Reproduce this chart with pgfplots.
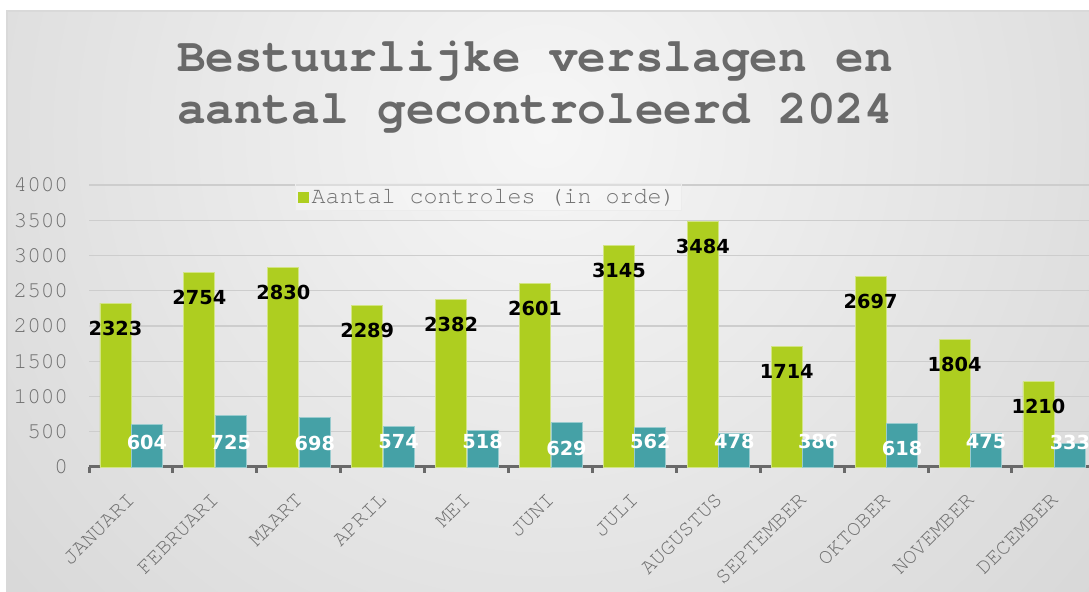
\documentclass[border=0pt]{standalone}
\usepackage{pgfplots}
\pgfplotsset{compat=1.18}
\usepackage{fontspec}
\setmainfont{TeX Gyre Cursor}
\newfontfamily\deja{DejaVu Sans}
\definecolor{grn}{RGB}{174,206,32}
\definecolor{tea}{RGB}{69,161,166}
\definecolor{txtg}{RGB}{112,112,112}
\definecolor{ttl}{RGB}{105,105,105}
\definecolor{axg}{RGB}{105,105,105}
\definecolor{gridc}{RGB}{205,205,205}
\definecolor{bgin}{RGB}{246,246,246}
\definecolor{bgout}{RGB}{196,196,196}
\pgfplotsset{/pgf/number format/.cd, 1000 sep={}, assume math mode=true}
\begin{document}
\begin{tikzpicture}
\useasboundingbox (0,0) rectangle (816.75pt,444pt);
\fill[white] (0,0) rectangle (816.75pt,444pt);
\begin{scope}
\clip (5.25pt,0pt) rectangle (816.75pt,435.75pt);
\fill[bgout] (5.25pt,0pt) rectangle (816.75pt,435.75pt);
\shade[inner color=bgin, outer color=bgout] (408.75pt,345pt) circle (900pt);
\end{scope}
\draw[gray!30, line width=0.9pt] (5.25pt,0pt) -- (5.25pt,435.75pt) -- (816.75pt,435.75pt);
\node[font=\bfseries\fontsize{35.8pt}{39pt}\selectfont, text=ttl, align=center] at (401.25pt,378.75pt) {Bestuurlijke verslagen en\\aantal gecontroleerd 2024};
\begin{axis}[
  at={(66.75pt,93.75pt)}, anchor=south west,
  scale only axis, width=750pt, height=211.5pt,
  xmin=-0.5, xmax=11.418, ymin=0, ymax=4000,
  axis x line*=bottom, axis y line*=left,
  x axis line style={draw=axg, line width=2.25pt, -},
  y axis line style={draw=none},
  ytick={0,500,...,4000},
  ymajorgrids, grid style={draw=gridc, line width=1.1pt},
  major tick length=0pt,
  xtick={0,...,11},
  xticklabels={JANUARI,FEBRUARI,MAART,APRIL,MEI,JUNI,JULI,AUGUSTUS,SEPTEMBER,OKTOBER,NOVEMBER,DECEMBER},
  extra x ticks={-0.5,0.5,1.5,2.5,3.5,4.5,5.5,6.5,7.5,8.5,9.5,10.5},
  extra x tick labels={},
  extra x tick style={major tick length=4.5pt, tick align=outside, major tick style={draw=axg, line width=2.25pt}, grid=none},
  yticklabel style={font=\fontsize{17pt}{20pt}\selectfont, text=txtg, anchor=east, inner sep=0pt, xshift=-15.5pt},
  xticklabel style={xshift=-3pt, yshift=-18.5pt, font=\fontsize{16.5pt}{19pt}\selectfont, text=txtg, rotate=45, anchor=north east, inner sep=0pt},
  legend style={at={(0.206,0.957)}, anchor=west, draw=gray!15, fill=white, fill opacity=0.3, text opacity=1, draw opacity=1, font=\fontsize{17.5pt}{20pt}\selectfont, text=txtg, inner sep=2pt},
  legend image code/.code={\draw[#1, draw=none, fill opacity=1] (0pt,-4.1pt) rectangle (8.25pt,4.1pt);},
  clip=false,
]
\addplot[ybar, bar width=23.25pt, bar shift=-11.6pt, fill=grn, draw=grn!55!white, line width=0.6pt,
  nodes near coords,
  every node near coord/.append style={font=\deja\bfseries\fontsize{14.5pt}{16pt}\selectfont, text=black, anchor=center, xshift=-11.6pt, yshift=-18.75pt}]
  coordinates {(0,2323) (1,2754) (2,2830) (3,2289) (4,2382) (5,2601) (6,3145) (7,3484) (8,1714) (9,2697) (10,1804) (11,1210)};
\addlegendentry{Aantal controles (in orde)}
\addplot[ybar, bar width=23.25pt, bar shift=12pt, fill=tea, draw=tea!55!white, line width=0.6pt, forget plot]
  coordinates {(0,604) (1,725) (2,698) (3,574) (4,518) (5,629) (6,562) (7,478) (8,386) (9,618) (10,475) (11,333)};
\addplot[draw=none, mark=none, forget plot, point meta=explicit symbolic,
  nodes near coords,
  every node near coord/.append style={font=\deja\bfseries\fontsize{14.5pt}{16pt}\selectfont, text=white, anchor=center, xshift=12pt}]
  coordinates {(0,355)[604] (1,355)[725] (2,340)[698] (3,360)[574] (4,360)[518] (5,270)[629] (6,360)[562] (7,360)[478] (8,360)[386] (9,270)[618] (10,355)[475] (11,355)[333]};
\end{axis}
\end{tikzpicture}
\end{document}
